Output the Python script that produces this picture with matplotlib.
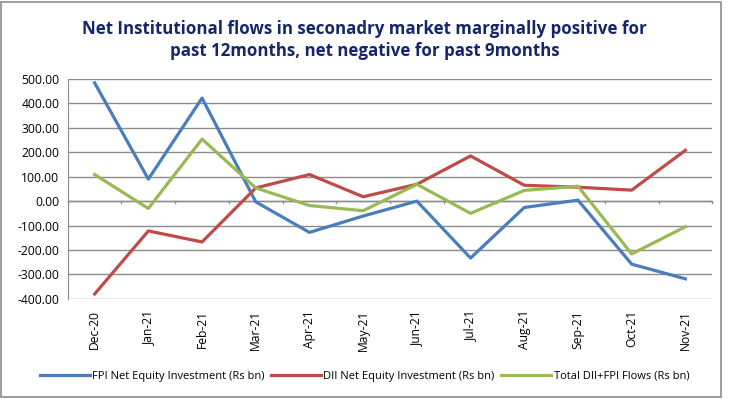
import numpy as np
import matplotlib
matplotlib.use('Agg')
import matplotlib.pyplot as plt
from matplotlib.patches import Rectangle

months = ['Dec-20', 'Jan-21', 'Feb-21', 'Mar-21', 'Apr-21', 'May-21',
          'Jun-21', 'Jul-21', 'Aug-21', 'Sep-21', 'Oct-21', 'Nov-21']
fpi = [484, 90, 422, -3, -128, -61, 0, -233, -26, 4, -258, -318]
dii = [-380, -122, -167, 54, 109, 18, 69, 185, 65, 57, 45, 208]
total = [109, -30, 254, 54, -18, -39, 69, -50, 44, 61, -216, -105]
y_ticks = [500, 400, 300, 200, 100, 0, -100, -200, -300, -400]

plt.rcParams['font.family'] = ['Open Sans', 'DejaVu Sans']

fig = plt.figure(figsize=(7.29, 3.99), dpi=100)
ax = fig.add_axes([0.093, 0.251, 0.884, 0.551])

x = np.arange(len(months))
ax.plot(x, fpi, color='#4A7EBB', lw=2.3, label='FPI Net Equity Investment (Rs bn)', zorder=3)
ax.plot(x, dii, color='#BE4B48', lw=2.3, label='DII Net Equity Investment (Rs bn)', zorder=3)
ax.plot(x, total, color='#98B954', lw=2.3, label='Total DII+FPI Flows (Rs bn)', zorder=3)

ax.set_xlim(-0.5, len(months) - 0.5)
ax.set_ylim(-400, 500)
ax.set_yticks(y_ticks)
ax.set_yticklabels([f'{v:.2f}' for v in y_ticks], fontsize=8.7)
ax.yaxis.grid(True, color='#8C8C8C', lw=1)
ax.set_axisbelow(True)
ax.tick_params(axis='y', length=0, pad=6)

# category labels at the bottom, tick marks on the zero line
ax.set_xticks(x)
ax.set_xticklabels(months, rotation=90, fontsize=8.7)
ax.tick_params(axis='x', length=0, pad=8)
for b in np.arange(len(months) + 1) - 0.5:
    ax.plot([b, b], [0, -8], color='#8C8C8C', lw=1, zorder=2, clip_on=False)
ax.axhline(0, color='#8C8C8C', lw=1, zorder=2)

for s in ['top', 'right', 'bottom']:
    ax.spines[s].set_visible(False)
ax.spines['left'].set_color('#8C8C8C')

fig.text(0.5, 0.95, 'Net Institutional flows in seconadry market marginally positive for\npast 12months, net negative for past 9months',
         ha='center', va='top', fontsize=12.2, fontweight='bold', color='#15266A', linespacing=1.3)

ax.legend(loc='center', ncol=3, frameon=False, fontsize=8, handlelength=4.5,
          handletextpad=0.2, columnspacing=0.6,
          bbox_to_anchor=(0.5, 0.057), bbox_transform=fig.transFigure)

fig.patches.append(Rectangle((0.002, 0.004), 0.987, 0.99, transform=fig.transFigure,
                             fill=False, edgecolor='#8C8C8C', lw=1.2))

plt.savefig('out.png', dpi=100)
